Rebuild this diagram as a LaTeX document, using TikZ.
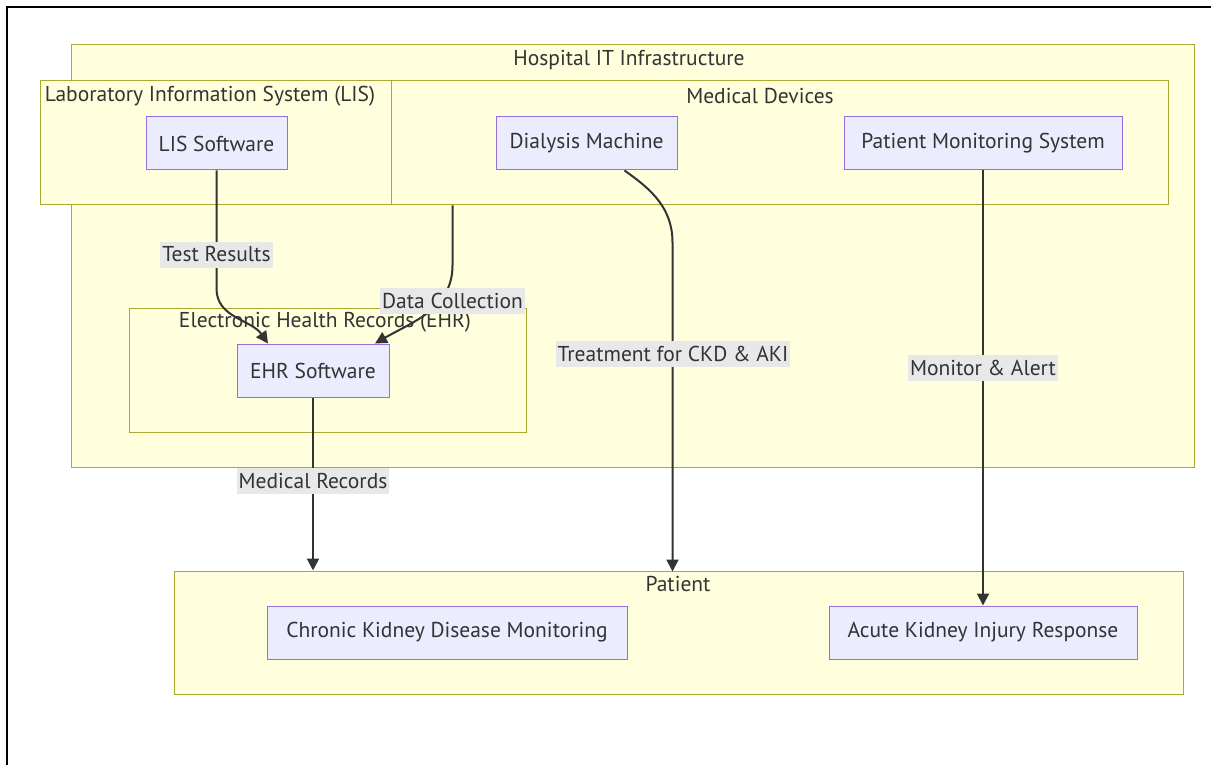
\documentclass[tikz,border=0pt]{standalone}
\usepackage{fontspec}
\setmainfont{PT Sans}
\usetikzlibrary{arrows.meta,calc}
\definecolor{clfill}{HTML}{FFFFDE}
\definecolor{cldraw}{HTML}{AAAA33}
\definecolor{ndfill}{HTML}{ECECFF}
\definecolor{nddraw}{HTML}{9370DB}
\definecolor{edge}{HTML}{333333}
\definecolor{lblbg}{HTML}{E8E8E8}
\definecolor{txt}{HTML}{333333}
\tikzset{
  cluster/.style={draw=cldraw, fill=clfill, line width=1pt, inner sep=0pt},
  ctitle/.style={text=txt, font=\fontsize{21.5}{21.5}\selectfont, inner sep=0pt},
  box/.style={draw=nddraw, fill=ndfill, line width=1pt, text=txt, font=\fontsize{21.5}{21.5}\selectfont, inner sep=0pt},
  arr/.style={draw=edge, line width=2pt, -{Triangle[length=12pt,width=12pt]}},
  elabel/.style={fill=lblbg, text=txt, font=\fontsize{21.5}{21.5}\selectfont, inner sep=2pt, minimum height=26pt}
}
\begin{document}
\begin{tikzpicture}[x=1pt,y=-1pt]
\useasboundingbox (0,0) rectangle (1211,765);
\draw[line width=1.5pt] (7,765) -- (7,7) -- (1211,7);
% clusters
\node[cluster, minimum width=1123pt, minimum height=422pt] (hosp) at (632.5,256) {};
\node[ctitle] (hospt) at (629,60) {Hospital IT Infrastructure};
\node[cluster, minimum width=810pt, minimum height=124pt] (md) at (763,143) {};
\node[cluster, minimum width=351pt, minimum height=124pt] (lisc) at (215.5,143) {};
\node[ctitle] (lisct) at (210,96) {Laboratory Information System (LIS)};
\node[ctitle] (mdt) at (760,96) {Medical Devices};
\node[cluster, minimum width=397pt, minimum height=124pt] (ehrc) at (327.5,370) {};
\node[ctitle] (ehrct) at (325,322) {Electronic Health Records (EHR)};
\node[cluster, minimum width=1009pt, minimum height=123pt] (pat) at (678.5,632.5) {};
\node[ctitle] (patt) at (678,584) {Patient};
% nodes
\node[box, minimum width=141pt, minimum height=53pt] (lis) at (216.5,143.5) {LIS Software};
\node[box, minimum width=181pt, minimum height=53pt] (dial) at (586.5,143.5) {Dialysis Machine};
\node[box, minimum width=278pt, minimum height=53pt] (pms) at (983,143.5) {Patient Monitoring System};
\node[box, minimum width=152pt, minimum height=53pt] (ehr) at (313,370.5) {EHR Software};
\node[box, minimum width=360pt, minimum height=53pt] (ckd) at (447,632.5) {Chronic Kidney Disease Monitoring};
\node[box, minimum width=308pt, minimum height=53pt] (aki) at (983,632.5) {Acute Kidney Injury Response};
% edges
\draw[arr] (lis.south) -- ++(0,118) to[out=-90,in=125] ($(ehr.north)+(-45,0)$);
\draw[arr] ($(md.south west)+(95,0)$) -- ++(0,60) to[out=-90,in=30] ($(ehr.north)+(62,0)$);
\draw[arr] ($(dial.south)+(38,0)$) to[out=-35,in=90] ($(dial.south)+(86,72)$) -- ($(dial.south)+(86,401)$) coordinate (dialend);
\draw[arr] (pms.south) -- (aki.north);
\draw[arr] (ehr.south) -- (ehr.south |- pat.north);
% labels
\node[elabel] (l1) at (216.5,254.5) {Test Results};
\node[elabel] (l2) at (452.5,301) {Data Collection};
\node[elabel] (l3) at (673,354) {Treatment for CKD \& AKI};
\node[elabel] (l4) at (983,368) {Monitor \& Alert};
\node[elabel] (l5) at (313,481) {Medical Records};
\end{tikzpicture}
\end{document}
